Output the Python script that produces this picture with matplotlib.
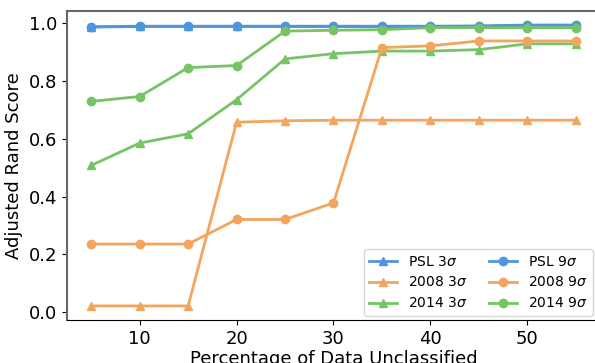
import matplotlib
matplotlib.use("Agg")
import matplotlib.pyplot as plt

# fraction of data left unclassified (%)
pct = [5, 10, 15, 20, 25, 30, 35, 40, 45, 50, 55]

psl_3 = [0.986, 0.988, 0.988, 0.988, 0.988, 0.988, 0.988, 0.988, 0.988, 0.992, 0.992]
psl_9 = [0.987, 0.989, 0.989, 0.989, 0.989, 0.989, 0.989, 0.989, 0.990, 0.993, 0.993]
y2008_3 = [0.022, 0.022, 0.022, 0.657, 0.662, 0.664, 0.664, 0.664, 0.664, 0.664, 0.664]
y2008_9 = [0.236, 0.236, 0.236, 0.321, 0.321, 0.378, 0.915, 0.921, 0.938, 0.938, 0.938]
y2014_3 = [0.508, 0.585, 0.617, 0.735, 0.876, 0.894, 0.903, 0.903, 0.908, 0.928, 0.928]
y2014_9 = [0.729, 0.746, 0.846, 0.853, 0.972, 0.975, 0.977, 0.984, 0.984, 0.984, 0.984]

blue = '#4f95db'
orange = '#f2a55e'
green = '#76c465'

fig = plt.figure(figsize=(5.95, 3.63), dpi=100)
ax = fig.add_axes([67/595, 43/363, 533/595, 309/363])

kw = dict(lw=2, ms=6)
ax.plot(pct, psl_3, color=blue, marker='^', label=r'PSL 3$\sigma$', **kw)
ax.plot(pct, y2008_3, color=orange, marker='^', label=r'2008 3$\sigma$', **kw)
ax.plot(pct, y2014_3, color=green, marker='^', label=r'2014 3$\sigma$', **kw)
ax.plot(pct, psl_9, color=blue, marker='o', label=r'PSL 9$\sigma$', **kw)
ax.plot(pct, y2008_9, color=orange, marker='o', label=r'2008 9$\sigma$', **kw)
ax.plot(pct, y2014_9, color=green, marker='o', label=r'2014 9$\sigma$', **kw)

ax.set_xticks([10, 20, 30, 40, 50])
ax.set_yticks([0.0, 0.2, 0.4, 0.6, 0.8, 1.0])
ax.tick_params(labelsize=13)
ax.set_xlabel('Percentage of Data Unclassified', fontsize=13, labelpad=2)
ax.set_ylabel('Adjusted Rand Score', fontsize=13)
for s in ['left', 'top']:
    ax.spines[s].set_color('#666666')
    ax.spines[s].set_linewidth(1.5)

# right edge of the axes falls outside the saved picture, so pin the legend in figure coords
ax.legend(ncol=2, loc='lower right', fontsize=10, columnspacing=1.5, borderaxespad=0,
          bbox_to_anchor=(593/595, 47/363), bbox_transform=fig.transFigure)

fig.savefig('out.png', dpi=100)
